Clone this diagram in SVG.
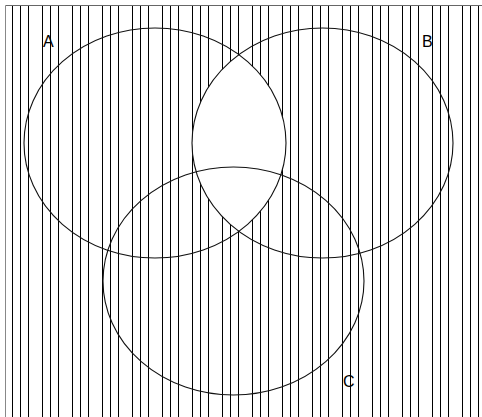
<svg xmlns="http://www.w3.org/2000/svg" width="482" height="417" viewBox="0 0 482 417">
<style>
.h{stroke:#000;stroke-width:1}
.e{fill:none;stroke:#111;stroke-width:1.1}
.lbl{font-family:"Liberation Sans",Arial,sans-serif;font-size:16px;fill:#000}
</style>
<defs>
<pattern id="hatch" x="0" y="0" width="30" height="417" patternUnits="userSpaceOnUse">
<line class="h" x1="12.5" y1="0" x2="12.5" y2="417"/>
<line class="h" x1="20.5" y1="0" x2="20.5" y2="417"/>
<line class="h" x1="28.5" y1="0" x2="28.5" y2="417"/>
</pattern>
<clipPath id="clipA"><ellipse cx="155" cy="143" rx="131" ry="115"/></clipPath>
</defs>
<rect width="482" height="417" fill="#fff"/>
<rect x="0" y="6" width="482" height="411" fill="url(#hatch)"/>
<line x1="5.5" y1="5.5" x2="482" y2="5.5" stroke="#666" stroke-width="1"/>
<line x1="5.5" y1="5.5" x2="5.5" y2="417" stroke="#888" stroke-width="1"/>
<g id="lens"><ellipse cx="322.5" cy="143" rx="130.5" ry="115" fill="#fff" clip-path="url(#clipA)"/></g>
<g id="A"><ellipse class="e" cx="155" cy="143" rx="131" ry="115"/><text class="lbl" x="43" y="47">A</text></g>
<g id="B"><ellipse class="e" cx="322.5" cy="143" rx="130.5" ry="115"/><text class="lbl" x="422" y="47">B</text></g>
<g id="C"><ellipse class="e" cx="233.5" cy="281" rx="130.5" ry="114"/><text class="lbl" x="343" y="387">C</text></g>
<g id="connectors"/>
</svg>
